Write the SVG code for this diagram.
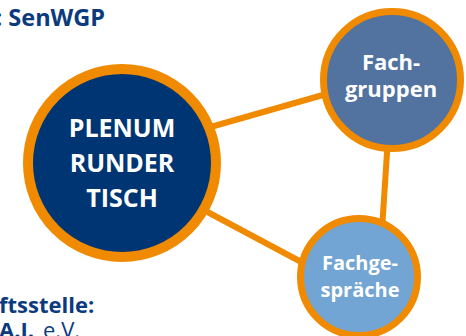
<svg xmlns="http://www.w3.org/2000/svg" width="466" height="336" viewBox="0 0 466 336">
<style>
.lbl{font-family:"Open Sans","Liberation Sans",sans-serif;font-weight:bold;fill:#ffffff;text-anchor:middle}
.side{font-family:"Open Sans","Liberation Sans",sans-serif;font-weight:bold;fill:#0b3a7e}
.ring{stroke:#f08a00}
.conn{stroke:#f08a00;stroke-width:6;fill:none}
</style>
<rect width="466" height="336" fill="#ffffff"/>
<text class="side" x="-4.5" y="26" font-size="23.5">: SenWGP</text>
<text class="side" x="-1" y="313" font-size="22">ftsstelle:</text>
<text class="side" y="338" font-size="22"><tspan x="-1">A.I.</tspan><tspan x="43" font-weight="normal">e.V.</tspan></text>
<g id="connectors">
<line class="conn" x1="200" y1="130" x2="330" y2="93"/>
<line class="conn" x1="387.5" y1="145" x2="382.5" y2="222"/>
<line class="conn" x1="200" y1="208" x2="305" y2="264"/>
</g>
<g id="plenum">
<circle class="ring" cx="122" cy="163" r="94" fill="#003574" stroke-width="10"/>
<text class="lbl" x="122" y="137" font-size="25">PLENUM</text>
<text class="lbl" x="122" y="172" font-size="25">RUNDER</text>
<text class="lbl" x="122" y="207" font-size="25">TISCH</text>
</g>
<g id="fachgruppen">
<circle class="ring" cx="392" cy="80" r="68.5" fill="#52739f" stroke-width="7"/>
<text class="lbl" x="391" y="70" font-size="22">Fach-</text>
<text class="lbl" x="391" y="97" font-size="22">gruppen</text>
</g>
<g id="fachgespraeche">
<circle class="ring" cx="359" cy="277" r="58.5" fill="#72a5d3" stroke-width="7"/>
<text class="lbl" x="360" y="270" font-size="20">Fachge-</text>
<text class="lbl" x="360" y="297" font-size="20">spräche</text>
</g>
</svg>
